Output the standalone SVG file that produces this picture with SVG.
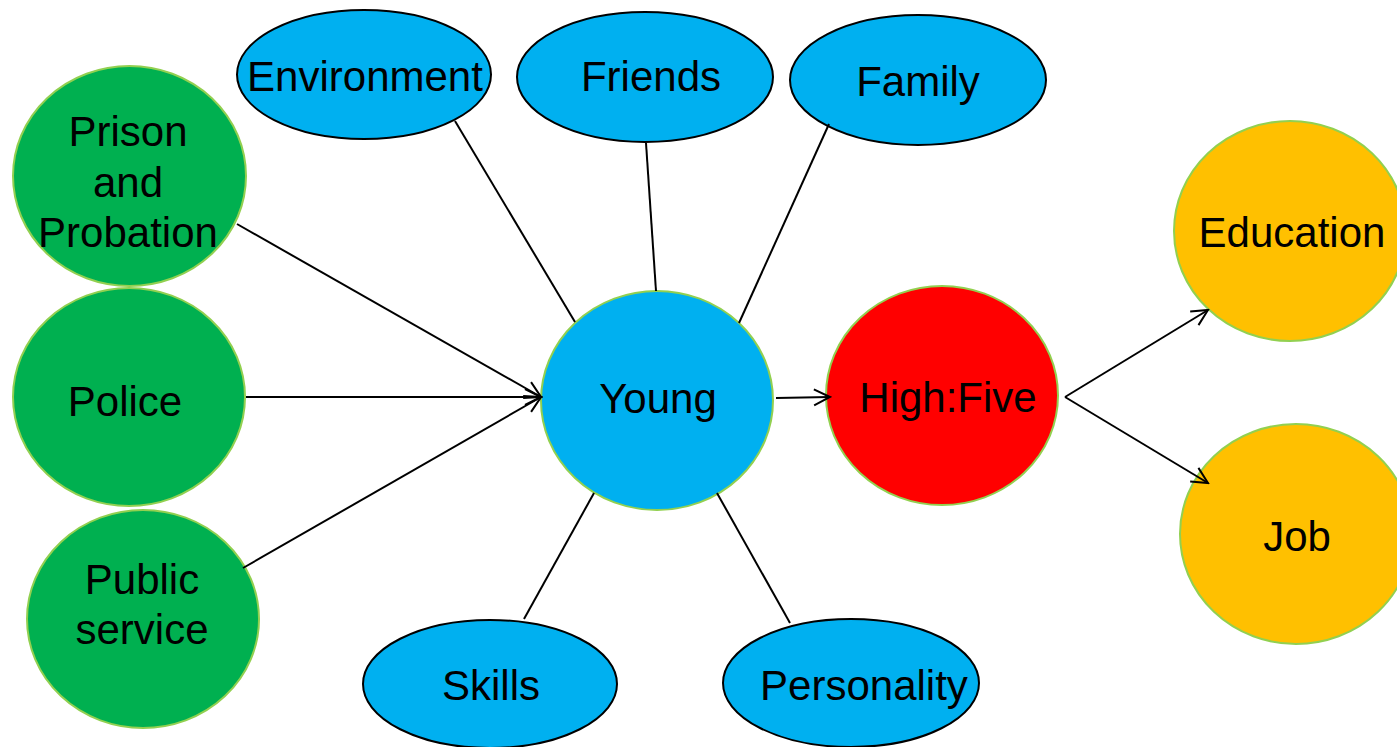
<svg xmlns="http://www.w3.org/2000/svg" width="1397" height="747" viewBox="0 0 1397 747">
<defs>
<style>
text{font-family:"Liberation Sans",Arial,sans-serif;font-size:42px;fill:#000;text-anchor:middle}
.c{stroke:#92D050;stroke-width:2}
.e{fill:#00B0F0;stroke:#000;stroke-width:2}
.g{fill:#00B050}.b{fill:#00B0F0}.r{fill:#FF0000}.o{fill:#FFC000}
.l{stroke:#000;stroke-width:2;fill:none}
</style>
<marker id="a" viewBox="0 0 20 20" refX="18" refY="10" markerWidth="20" markerHeight="20" markerUnits="userSpaceOnUse" orient="auto">
<path d="M2,2 L18,10 L2,18" fill="none" stroke="#000" stroke-width="2"/>
</marker>
</defs>
<rect width="1397" height="747" fill="#fff"/>
<g id="prison"><ellipse class="c g" cx="129.5" cy="176" rx="116.5" ry="110"/><text x="128" y="146">Prison</text><text x="128" y="197">and</text><text x="128" y="247">Probation</text></g>
<g id="police"><ellipse class="c g" cx="129" cy="397" rx="116" ry="109"/><text x="125" y="416">Police</text></g>
<g id="public"><ellipse class="c g" cx="143" cy="619" rx="116" ry="109"/><text x="142" y="594">Public</text><text x="142" y="644">service</text></g>
<g id="environment"><ellipse class="e" cx="364" cy="74.5" rx="127" ry="64.5"/><text x="365" y="91">Environment</text></g>
<g id="friends"><ellipse class="e" cx="645" cy="77" rx="128" ry="65"/><text x="651" y="91">Friends</text></g>
<g id="family"><ellipse class="e" cx="918" cy="80" rx="128" ry="65"/><text x="918" y="96">Family</text></g>
<g id="young"><ellipse class="c b" cx="657" cy="400.5" rx="116" ry="109.5"/><text x="658" y="413">Young</text></g>
<g id="highfive"><ellipse class="c r" cx="942" cy="395.5" rx="116" ry="109.5"/><text x="948" y="412">High:Five</text></g>
<g id="education"><ellipse class="c o" cx="1290" cy="231" rx="116" ry="110"/><text x="1292" y="247">Education</text></g>
<g id="job"><ellipse class="c o" cx="1296" cy="534" rx="116" ry="110"/><text x="1297" y="551">Job</text></g>
<g id="skills"><ellipse class="e" cx="490" cy="684" rx="127" ry="64"/><text x="491" y="700">Skills</text></g>
<g id="personality"><ellipse class="e" cx="851" cy="683" rx="128" ry="64"/><text x="864" y="700">Personality</text></g>
<g id="connectors">
<line class="l" x1="237" y1="224" x2="541" y2="397" marker-end="url(#a)"/>
<line class="l" x1="246" y1="397" x2="541" y2="397" marker-end="url(#a)"/>
<line class="l" x1="243" y1="568" x2="541" y2="397" marker-end="url(#a)"/>
<line class="l" x1="455" y1="121" x2="575" y2="322"/>
<line class="l" x1="646" y1="143" x2="656" y2="291"/>
<line class="l" x1="829" y1="124" x2="739" y2="323"/>
<line class="l" x1="524" y1="619" x2="594" y2="493"/>
<line class="l" x1="790" y1="623" x2="717" y2="493"/>
<line class="l" x1="776" y1="398" x2="830" y2="397" marker-end="url(#a)"/>
<line class="l" x1="1065" y1="397" x2="1208" y2="310" marker-end="url(#a)"/>
<line class="l" x1="1065" y1="397" x2="1208" y2="483" marker-end="url(#a)"/>
</g>
</svg>
